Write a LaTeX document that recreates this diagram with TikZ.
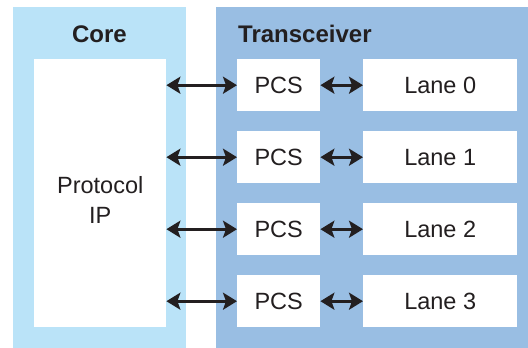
\documentclass[tikz,border=0pt]{standalone}
\usepackage{fontspec}
\setmainfont{Liberation Sans}
\usetikzlibrary{arrows.meta}
\definecolor{coreblue}{HTML}{BAE3F8}
\definecolor{xcvrblue}{HTML}{99BEE3}
\definecolor{ink}{HTML}{231F20}
\tikzset{
  block/.style={
    fill=white,
    draw=none,
    anchor=north west,
    minimum height=52pt,
    inner sep=0pt,
    align=center,
    text=ink,
    font=\fontsize{23.5}{30}\selectfont
  },
  title/.style={text=ink, inner sep=0pt, font=\fontsize{24}{28}\selectfont\bfseries},
  link/.style={{Stealth[length=14pt,width=17pt,inset=3pt]}-{Stealth[length=14pt,width=17pt,inset=3pt]}, line width=2.6pt, draw=ink}
}
\begin{document}
\begin{tikzpicture}[x=1pt, y=-1pt]
  \useasboundingbox (0,0) rectangle (528,348);
  % panels
  \fill[coreblue] (13,7) rectangle (186,348);
  \fill[xcvrblue] (216,7) rectangle (528,348);
  \node[title, anchor=base] (core) at (99.5,42) {Core};
  \node[title, anchor=base west] (xcvr) at (238,42) {Transceiver};
  % core
  \node[block, minimum width=132pt, minimum height=268pt] (ip) at (34,59) {};
  \node[text=ink, align=center, inner sep=0pt, font=\fontsize{23.5}{30}\selectfont] (iptext) at ([yshift=-7pt]ip.center) {Protocol\\IP};
  % pcs
  \node[block, minimum width=83pt] (p0) at (237,59) {PCS};
  \node[block, minimum width=83pt] (p1) at (237,131) {PCS};
  \node[block, minimum width=83pt] (p2) at (237,203) {PCS};
  \node[block, minimum width=83pt] (p3) at (237,275) {PCS};
  % lanes
  \node[block, minimum width=154pt] (l0) at (363,59) {Lane 0};
  \node[block, minimum width=154pt] (l1) at (363,131) {Lane 1};
  \node[block, minimum width=154pt] (l2) at (363,203) {Lane 2};
  \node[block, minimum width=154pt] (l3) at (363,275) {Lane 3};
  % links
  \draw[link] (ip.east |- p0.west) -- (p0.west);
  \draw[link] (ip.east |- p1.west) -- (p1.west);
  \draw[link] (ip.east |- p2.west) -- (p2.west);
  \draw[link] (ip.east |- p3.west) -- (p3.west);
  \draw[link] (p0.east) -- (l0.west);
  \draw[link] (p1.east) -- (l1.west);
  \draw[link] (p2.east) -- (l2.west);
  \draw[link] (p3.east) -- (l3.west);
\end{tikzpicture}
\end{document}
